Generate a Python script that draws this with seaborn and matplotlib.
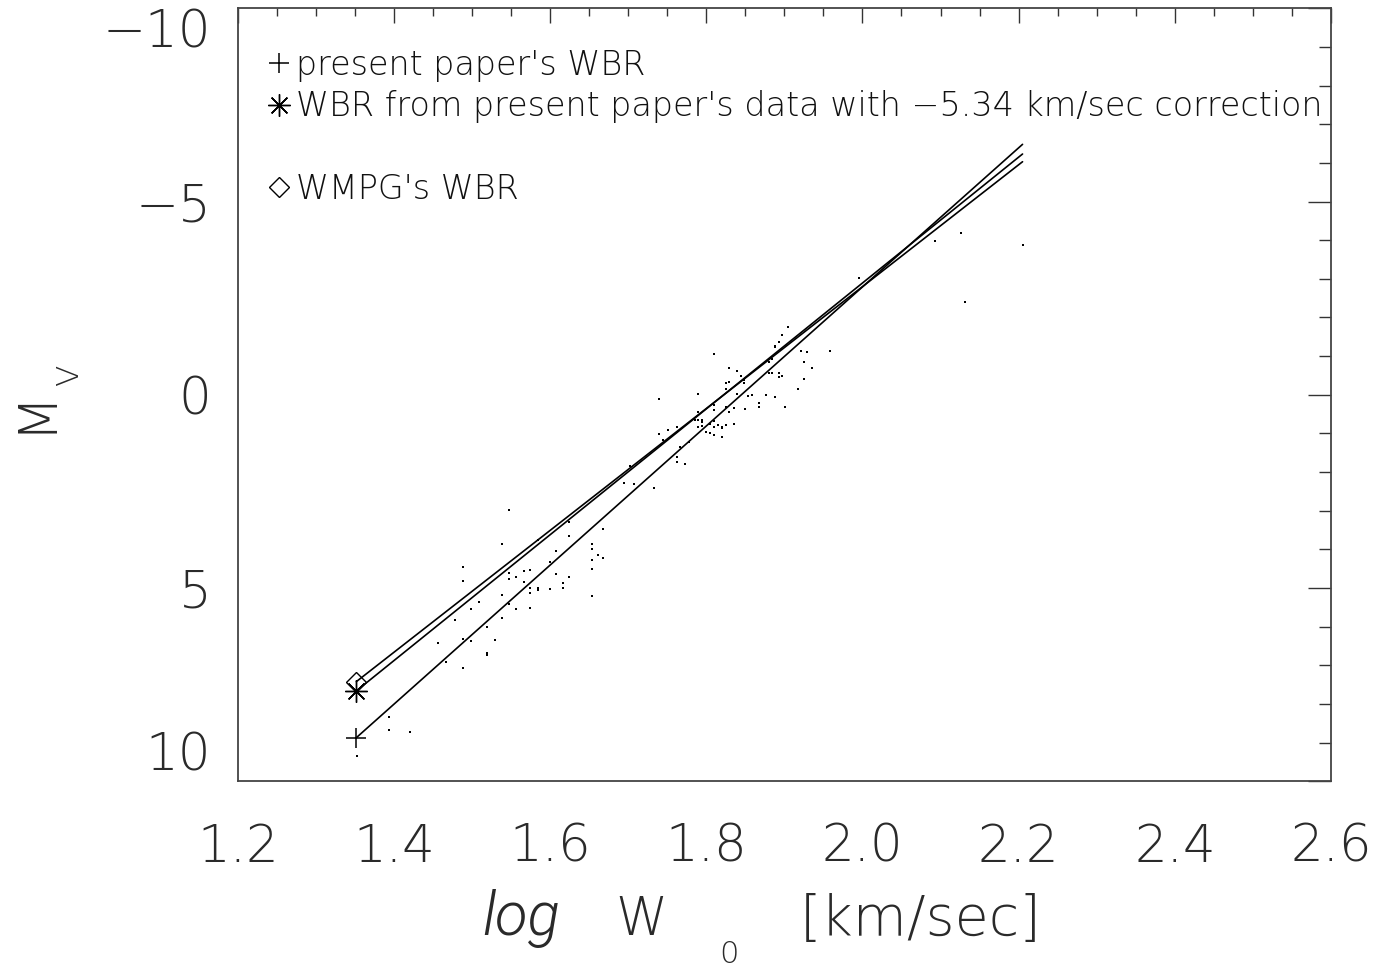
import numpy as np
import pandas as pd
import matplotlib
matplotlib.use("Agg")
import matplotlib.pyplot as plt
from matplotlib.lines import Line2D
from matplotlib.ticker import MultipleLocator, FixedLocator
from matplotlib import font_manager
import seaborn as sns

# ---------------- data ----------------
log_w = [1.548, 1.538, 1.489, 1.489, 1.548, 1.548, 1.556, 1.566, 1.574, 1.566,
         1.538, 1.509, 1.499, 1.478, 1.548, 1.556, 1.574, 1.538, 1.519, 1.489,
         1.499, 1.529, 1.519, 1.519, 1.456, 1.467, 1.489, 1.394, 1.394, 1.420,
         1.353, 1.574, 1.574, 1.584, 1.584, 1.600, 1.616, 1.616, 1.624, 1.608,
         1.600, 1.608, 1.624, 1.624, 1.584, 1.654, 1.654, 1.654, 1.654, 1.654,
         1.661, 1.668, 1.668, 1.695, 1.708, 1.702, 1.778, 1.905, 1.897, 1.893,
         1.888, 1.888, 1.810, 1.921, 1.929, 1.958, 1.925, 1.936, 1.884, 1.880,
         1.829, 1.839, 1.844, 1.825, 1.829, 1.825, 1.848, 1.848, 1.880, 1.884,
         1.893, 1.893, 1.897, 1.925, 1.917, 1.876, 1.888, 1.901, 1.867, 1.867,
         1.858, 1.853, 1.840, 1.849, 1.835, 1.829, 1.825, 1.835, 1.825, 1.820,
         1.820, 1.820, 1.815, 1.810, 1.810, 1.810, 1.810, 1.810, 1.805, 1.805,
         1.800, 1.795, 1.795, 1.795, 1.790, 1.790, 1.790, 1.790, 1.785, 1.762,
         1.751, 1.739, 1.739, 1.745, 1.767, 1.762, 1.762, 1.773, 1.733, 2.126,
         2.093, 2.206, 1.996, 2.131]
abs_mag = [2.98, 3.86, 4.46, 4.83, 4.62, 4.77, 4.71, 4.56, 4.54, 4.84,
           5.18, 5.36, 5.53, 5.82, 5.42, 5.53, 5.52, 5.78, 6.01, 6.31,
           6.36, 6.34, 6.69, 6.72, 6.41, 6.91, 7.06, 8.34, 8.66, 8.72,
           9.35, 5.01, 5.12, 5.01, 5.05, 5.03, 4.88, 4.99, 4.71, 4.63,
           4.32, 4.04, 3.65, 3.30, 3.76, 3.86, 3.99, 4.27, 4.51, 5.21,
           4.14, 4.23, 3.47, 2.27, 2.31, 1.84, 1.23, -1.76, -1.55, -1.36,
           -1.27, -1.24, -1.05, -1.14, -1.10, -1.14, -0.84, -0.69, -0.92, -0.86,
           -0.69, -0.62, -0.49, -0.31, -0.32, -0.15, -0.38, -0.30, -0.57, -0.57,
           -0.57, -0.47, -0.49, -0.42, -0.14, 0.01, 0.06, 0.32, 0.22, 0.31,
           0.00, 0.02, -0.02, 0.37, 0.33, 0.45, 0.31, 0.75, 0.78, 0.83,
           0.87, 1.08, 0.78, 0.27, 0.40, 0.67, 0.83, 1.04, 0.76, 1.00,
           0.95, 0.65, 0.71, 0.81, 0.65, 0.83, 0.45, -0.02, 0.65, 0.83,
           0.90, 0.12, 1.01, 1.17, 1.34, 1.62, 1.73, 1.80, 2.40, -4.18,
           -3.99, -3.88, -3.01, -2.39]

# WBR fit lines (endpoints)
fit_logw = [1.352, 2.205]
wbr_present = [8.87, -6.48]
wbr_corrected = [7.66, -6.23]
wbr_wmpg = [7.42, -6.03]

relation_labels = ["present paper's WBR",
                   "WBR from present paper's data with \u22125.34 km/sec correction",
                   "WMPG's WBR"]

xticks = [1.2, 1.4, 1.6, 1.8, 2.0, 2.2, 2.4, 2.6]
xtick_labels = ["1.2", "1.4", "1.6", "1.8", "2.0", "2.2", "2.4", "2.6"]
yticks = [-10, -5, 0, 5, 10]
ytick_labels = ["\u221210", "\u22125", "0", "5", "10"]

# ---------------- figure ----------------
sns.set_theme(style="white")
plt.rcParams['font.family'] = ['DejaVu Sans']
plt.rcParams['axes.unicode_minus'] = True

# pick a light weight if one is installed
light = "normal"
for f in font_manager.fontManager.ttflist:
    if f.name == "DejaVu Sans" and isinstance(f.weight, int) and f.weight <= 300:
        light = f.weight
        break

# a light italic face for "log", if any is installed
italic_font = dict(family="DejaVu Sans", style="italic", fontweight="normal",
                   color="#777777")
for fam in ["Roboto", "Open Sans", "Lato", "Inter", "Noto Sans"]:
    found = [f for f in font_manager.fontManager.ttflist
             if f.name == fam and f.style == "italic"
             and isinstance(f.weight, int) and f.weight <= 300]
    if found:
        italic_font = dict(family=fam, style="italic", fontweight=found[0].weight,
                           color="#2a2a2a")
        break

W, H = 1388, 967
fig = plt.figure(figsize=(W / 100, H / 100), dpi=100)
ax = fig.add_axes([237.7 / W, 1 - 781.3 / H, (1331 - 237.7) / W, (781.3 - 8.3) / H])

dots = pd.DataFrame({"log_w": log_w, "M_V": abs_mag})
sns.scatterplot(data=dots, x="log_w", y="M_V", ax=ax, s=4, color="black",
                linewidth=0, marker="s")

lines = pd.DataFrame({
    "log_w": fit_logw * 3,
    "M_V": wbr_present + wbr_corrected + wbr_wmpg,
    "relation": [relation_labels[0]] * 2 + [relation_labels[1]] * 2 + [relation_labels[2]] * 2,
})
sns.lineplot(data=lines, x="log_w", y="M_V", hue="relation",
             palette=["black", "black", "black"], estimator=None, sort=False,
             legend=False, ax=ax, linewidth=1.2)

mk_plus = dict(marker="+", ms=15, mew=1.1, color="black", linestyle="none")
mk_star = dict(marker=(8, 2, 0), ms=16, mew=1.0, color="black", linestyle="none")
mk_diam = dict(marker="D", ms=10, mew=1.0, markerfacecolor="none",
               markeredgecolor="black", linestyle="none")
ax.plot(fit_logw[0], wbr_present[0], **mk_plus)
ax.plot(fit_logw[0], wbr_corrected[0], **mk_star)
ax.plot(fit_logw[0], wbr_wmpg[0], **mk_diam)

# limits / ticks
ax.set_xlim(1.2, 2.6)
ax.set_ylim(10, -10)
ax.xaxis.set_major_locator(FixedLocator(xticks))
ax.set_xticklabels(xtick_labels)
ax.xaxis.set_minor_locator(MultipleLocator(0.05))
ax.yaxis.set_major_locator(FixedLocator(yticks))
ax.set_yticklabels(ytick_labels)
ax.yaxis.set_minor_locator(MultipleLocator(1))

tick_col = "#2a2a2a"
ax.tick_params(axis="both", which="both", direction="in", top=True, right=True,
               colors="#333333", width=1.0, labelcolor=tick_col)
ax.tick_params(axis="x", which="major", length=11, labelsize=37, pad=30)
ax.tick_params(axis="x", which="minor", length=5.8)
ax.tick_params(axis="y", which="major", length=16.5, labelsize=37, pad=19)
ax.tick_params(axis="y", which="minor", length=8.3)
for lab in ax.get_xticklabels() + ax.get_yticklabels():
    lab.set_fontweight(light)
for lab in ax.get_yticklabels():
    t = lab.get_text()
    if t == "\u221210":
        lab.set_va("top")
    elif t == "10":
        lab.set_va("bottom")

for sp in ax.spines.values():
    sp.set_visible(True)
    sp.set_color("#444444")
    sp.set_linewidth(1.3)

ax.set_xlabel("")
ax.set_ylabel("")

# axis labels built from pieces (IDL-like layout)
fs_lab = 38
txt = dict(color=tick_col, fontweight=light)
fig.text(482 / W, 1 - 935 / H, "log", fontsize=43, ha="left", va="baseline",
         **italic_font)
fig.text(615 / W, 1 - 935 / H, "W", fontsize=fs_lab, ha="left", va="baseline", **txt)
fig.text(719 / W, 1 - 963 / H, "0", fontsize=22, ha="left", va="baseline", **txt)
fig.text(800 / W, 1 - 935 / H, "[km/sec]", fontsize=40, ha="left",
         va="baseline", **txt)

fig.text(50 / W, 1 - 410 / H, "M", fontsize=fs_lab, rotation=90,
         rotation_mode="anchor", ha="center", va="baseline", **txt)
fig.text(78 / W, 1 - 375 / H, "V", fontsize=22.5, rotation=90,
         rotation_mode="anchor", ha="center", va="baseline", **txt)

# legend (marker-only handles, blank spacer row)
handles = [Line2D([], [], **mk_plus), Line2D([], [], **mk_star),
           Line2D([], [], linestyle="none", marker=None),
           Line2D([], [], **mk_diam)]
labels = [relation_labels[0], relation_labels[1], " ", relation_labels[2]]
leg = ax.legend(handles, labels, loc="upper left",
                bbox_to_anchor=(31.4 / 1093.3, 1 - (49 - 8.3) / 773), frameon=False,
                fontsize=24, handlelength=0.6, handletextpad=0.2, borderpad=0,
                borderaxespad=0, labelspacing=0.25, labelcolor="#111111")
for t in leg.get_texts():
    t.set_fontweight(light)

fig.savefig("out.png", dpi=100)
